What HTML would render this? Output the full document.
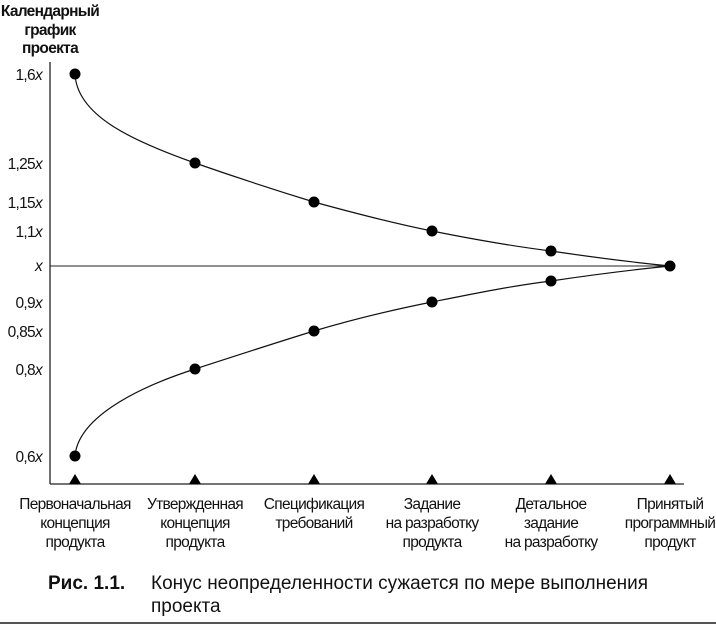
<!DOCTYPE html>
<html><head><meta charset="utf-8"><style>
html,body{margin:0;padding:0;background:#fff;}
svg text{font-family:"Liberation Sans",sans-serif;fill:#111;}
.n{letter-spacing:-0.7px;}
</style></head><body>
<svg width="716" height="626" viewBox="0 0 716 626" xmlns="http://www.w3.org/2000/svg">
<g font-size="15.5" font-weight="bold" text-anchor="middle" class="n">
<text x="50" y="16">Календарный</text>
<text x="50" y="35">график</text>
<text x="50" y="53">проекта</text>
</g>
<line x1="50" y1="62" x2="50" y2="484" stroke="#222" stroke-width="1.3"/>
<line x1="50" y1="484" x2="684" y2="484" stroke="#222" stroke-width="1.3"/>
<line x1="50" y1="266" x2="670" y2="266" stroke="#222" stroke-width="1"/>
<g font-size="15.5" text-anchor="end" class="n">
<text x="42" y="80">1,6<tspan font-style="italic">x</tspan></text>
<text x="42" y="169">1,25<tspan font-style="italic">x</tspan></text>
<text x="42" y="208">1,15<tspan font-style="italic">x</tspan></text>
<text x="42" y="237">1,1<tspan font-style="italic">x</tspan></text>
<text x="42" y="271" font-style="italic">x</text>
<text x="42" y="308">0,9<tspan font-style="italic">x</tspan></text>
<text x="42" y="337">0,85<tspan font-style="italic">x</tspan></text>
<text x="42" y="375">0,8<tspan font-style="italic">x</tspan></text>
<text x="42" y="462">0,6<tspan font-style="italic">x</tspan></text>
</g>
<path d="M75,74 C77,115 130,140 195,163 C235,177 275,190 314,202 C354,213 392,223 432,231 C472,239 511,246 551,251 C591,257 630,262 670,266" fill="none" stroke="#111" stroke-width="1.2"/>
<path d="M75,456 C78,420 130,390 195,369 C235,356 275,343 314,331 C354,319 392,310 432,302 C472,294 511,286 551,281 C591,275 630,270 670,266" fill="none" stroke="#111" stroke-width="1.2"/>
<g fill="#000">
<circle cx="75" cy="74" r="5.5"/><circle cx="195" cy="163" r="5.5"/><circle cx="314" cy="202" r="5.5"/><circle cx="432" cy="231" r="5.5"/><circle cx="551" cy="251" r="5.5"/><circle cx="670" cy="266" r="5.5"/>
<circle cx="75" cy="456" r="5.5"/><circle cx="195" cy="369" r="5.5"/><circle cx="314" cy="331" r="5.5"/><circle cx="432" cy="302" r="5.5"/><circle cx="551" cy="281" r="5.5"/>
<path d="M69,484 L75,474 L81,484Z"/><path d="M189,484 L195,474 L201,484Z"/><path d="M308,484 L314,474 L320,484Z"/><path d="M426,484 L432,474 L438,484Z"/><path d="M545,484 L551,474 L557,484Z"/><path d="M664,484 L670,474 L676,484Z"/>
</g>
<g font-size="15.5" text-anchor="middle" class="n">
<text x="75" y="509">Первоначальная</text><text x="75" y="528">концепция</text><text x="75" y="547">продукта</text>
<text x="195" y="509">Утвержденная</text><text x="195" y="528">концепция</text><text x="195" y="547">продукта</text>
<text x="314" y="509">Спецификация</text><text x="314" y="528">требований</text>
<text x="432" y="509">Задание</text><text x="432" y="528">на разработку</text><text x="432" y="547">продукта</text>
<text x="551" y="509">Детальное</text><text x="551" y="528">задание</text><text x="551" y="547">на разработку</text>
<text x="670" y="509">Принятый</text><text x="670" y="528">программный</text><text x="670" y="547">продукт</text>
</g>
<text x="48" y="589" font-size="19" font-weight="bold">Рис. 1.1.</text>
<text x="151" y="589" font-size="19">Конус неопределенности сужается по мере выполнения</text>
<text x="151" y="612" font-size="19">проекта</text>
<line x1="0" y1="623" x2="716" y2="623" stroke="#555" stroke-width="2"/>
</svg>
</body></html>
